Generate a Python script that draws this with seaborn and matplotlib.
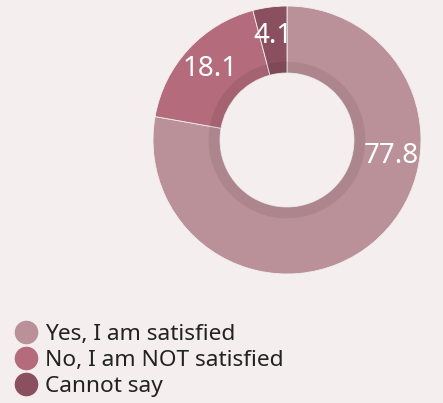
import numpy as np
import matplotlib
matplotlib.use("Agg")
import matplotlib.pyplot as plt
import seaborn as sns
from matplotlib.lines import Line2D

# Survey answers and their shares (percent)
categories = ["Yes, I am satisfied", "No, I am NOT satisfied", "Cannot say"]
values = [77.8, 18.1, 4.1]
colors = ["#bb9199", "#b46b7b", "#8a5060"]

bg = "#f4efee"
sns.set_theme(style="white")
plt.rcParams["font.family"] = ["Noto Sans", "DejaVu Sans"]

W, H = 443, 403
fig = plt.figure(figsize=(W / 100, H / 100), dpi=100, facecolor=bg)

# Donut geometry in pixels
cx, cy, R = 287, 140, 134
ax = fig.add_axes([(cx - R) / W, (H - cy - R) / H, 2 * R / W, 2 * R / H])
ax.set_facecolor(bg)
ax.set_axis_off()

wedges, _ = ax.pie(values, colors=colors, startangle=90, counterclock=False,
                   radius=1.0, wedgeprops=dict(width=0.5, linewidth=0.6, edgecolor=bg))

# darker inner band along the hole
ax.pie([1], colors=["#000000"], radius=0.585,
       wedgeprops=dict(width=0.085, alpha=0.08, linewidth=0))

ax.set_xlim(-1, 1)
ax.set_ylim(-1, 1)

# value labels
total = sum(values)
cum = np.cumsum([0] + values[:-1])
mid_deg = [(c + v / 2) / total * 360 for c, v in zip(cum, values)]
mid_deg[0] = 99.0  # big slice label sits on the right side
label_r = 0.785
for val, ang in zip(values, mid_deg):
    a = np.deg2rad(ang)
    x, y = label_r * np.sin(a), label_r * np.cos(a)
    ax.text(x, y, f"{val:.1f}", color="white", fontsize=20,
            ha="center", va="center")

# legend
handles = [Line2D([0], [0], marker="o", linestyle="", markersize=16,
                  markerfacecolor=c, markeredgecolor=c) for c in colors]
leg = fig.legend(handles, categories, loc="upper left",
                 bbox_to_anchor=(12 / W, 1 - 324 / H), frameon=False,
                 fontsize=16.3, labelspacing=0.22, handletextpad=0.25,
                 handlelength=1.2, borderaxespad=0.0, borderpad=0.0)
for t in leg.get_texts():
    t.set_color("#222222")

fig.savefig("out.png", dpi=100, facecolor=bg)
